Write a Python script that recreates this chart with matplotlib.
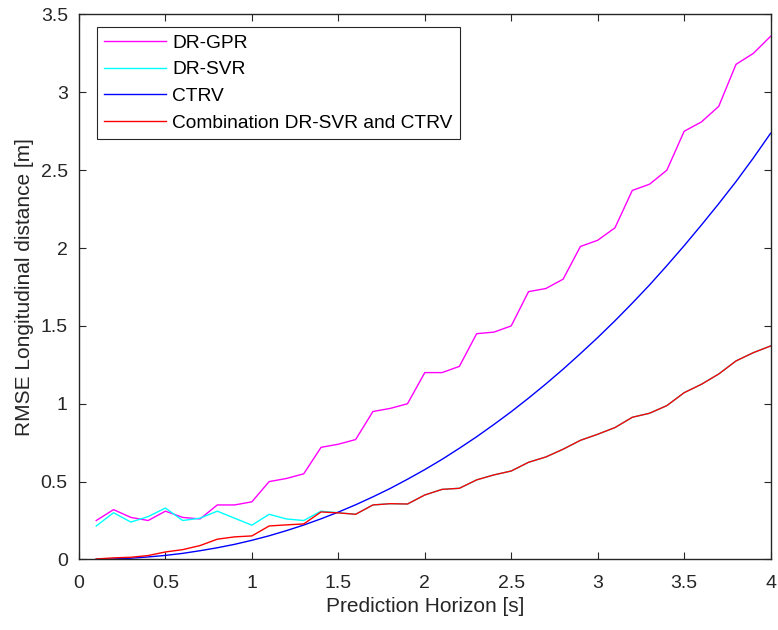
import matplotlib
matplotlib.use("Agg")
import matplotlib.pyplot as plt

plt.rcParams["font.family"] = ["Liberation Sans", "DejaVu Sans"]

horizon = [round(0.1 * k, 1) for k in range(1, 41)]

dr_gpr = [0.25, 0.32, 0.27, 0.25, 0.31, 0.27, 0.26, 0.35, 0.35, 0.37,
          0.50, 0.52, 0.55, 0.72, 0.74, 0.77, 0.95, 0.97, 1.00, 1.20,
          1.20, 1.24, 1.45, 1.46, 1.50, 1.72, 1.74, 1.80, 2.01, 2.05,
          2.13, 2.37, 2.41, 2.50, 2.75, 2.81, 2.91, 3.18, 3.25, 3.36]

dr_svr = [0.215, 0.30, 0.24, 0.275, 0.33, 0.25, 0.265, 0.31, 0.265, 0.22,
          0.29, 0.26, 0.25, 0.31, 0.30, 0.29, 0.35, 0.358, 0.356, 0.414,
          0.45, 0.457, 0.511, 0.543, 0.568, 0.624, 0.658, 0.708, 0.765, 0.804,
          0.847, 0.913, 0.939, 0.988, 1.071, 1.125, 1.191, 1.275, 1.328, 1.371]

ctrv = [0.001, 0.003, 0.008, 0.016, 0.026, 0.039, 0.056, 0.075, 0.097, 0.123,
        0.152, 0.185, 0.221, 0.261, 0.304, 0.351, 0.402, 0.456, 0.515, 0.577,
        0.643, 0.714, 0.788, 0.867, 0.949, 1.036, 1.127, 1.222, 1.322, 1.425,
        1.533, 1.646, 1.763, 1.887, 2.015, 2.148, 2.285, 2.427, 2.578, 2.737]

combined = [0.003, 0.010, 0.014, 0.025, 0.048, 0.063, 0.089, 0.130, 0.145, 0.151,
            0.215, 0.222, 0.228, 0.305, 0.299, 0.29, 0.35, 0.358, 0.356, 0.414,
            0.45, 0.457, 0.511, 0.543, 0.568, 0.624, 0.658, 0.708, 0.765, 0.804,
            0.847, 0.913, 0.939, 0.988, 1.071, 1.125, 1.191, 1.275, 1.328, 1.371]

fig = plt.figure(figsize=(7.78, 6.30), dpi=100)
ax = fig.add_axes([0.1015, 0.112, 0.889, 0.865])

ax.plot(horizon, dr_gpr, color=(1, 0, 1), lw=1.0, label="DR-GPR")
ax.plot(horizon, dr_svr, color=(0, 1, 1), lw=1.0, label="DR-SVR")
ax.plot(horizon, ctrv, color=(0, 0, 1), lw=1.0, label="CTRV")
ax.plot(horizon, combined, color=(1, 0, 0), lw=1.0,
        label="Combination DR-SVR and CTRV")

ax.set_xlim(0, 4)
ax.set_ylim(0, 3.5)
ax.set_xticks([0, 0.5, 1, 1.5, 2, 2.5, 3, 3.5, 4])
ax.set_xticklabels(["0", "0.5", "1", "1.5", "2", "2.5", "3", "3.5", "4"])
ax.set_yticks([0, 0.5, 1, 1.5, 2, 2.5, 3, 3.5])
ax.set_yticklabels(["0", "0.5", "1", "1.5", "2", "2.5", "3", "3.5"])

edge = (0.15, 0.15, 0.15)
for s in ax.spines.values():
    s.set_color(edge)
    s.set_linewidth(1.0)
ax.tick_params(direction="in", length=5, width=0.8, color=edge,
               top=True, right=True, labelsize=14, labelcolor=edge)
ax.tick_params(axis="x", pad=11.5)
ax.tick_params(axis="y", pad=8)

ax.set_xlabel("Prediction Horizon [s]", fontsize=15, color=edge, labelpad=3)
ax.set_ylabel("RMSE Longitudinal distance [m]", fontsize=15, color=edge,
              labelpad=4.5)

leg = ax.legend(loc="upper left", bbox_to_anchor=(0.026, 0.977),
                borderaxespad=0, fontsize=13.8, frameon=True, fancybox=False,
                handlelength=3.2, handletextpad=0.35, labelspacing=0.48,
                borderpad=0.38)
leg.get_frame().set_edgecolor(edge)
leg.get_frame().set_linewidth(0.8)
leg.get_frame().set_alpha(1)

fig.savefig("out.png", dpi=100)
